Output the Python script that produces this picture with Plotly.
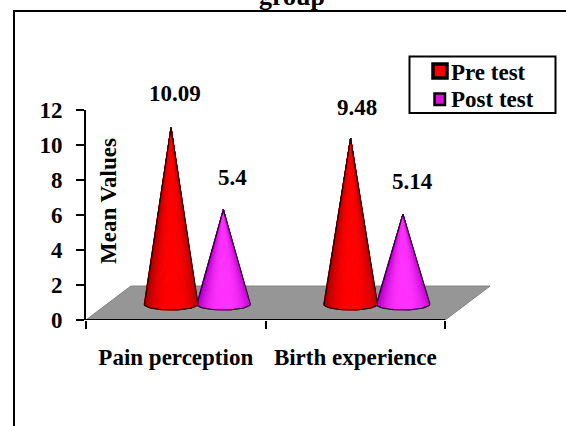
import plotly.graph_objects as go
import numpy as np

categories = ["Pain perception", "Birth experience"]
pre_test = [10.09, 9.48]
post_test = [5.4, 5.14]
y_ticks = [0, 2, 4, 6, 8, 10, 12]
legend_names = ["Pre test", "Post test"]
title_text = "group"
y_title = "Mean Values"

W, H = 566, 426
L, R, T, B = 86, 76, 110, 106
FONT = "Liberation Serif"
FS = 23

DEPTH_X, DEPTH_Y = 0.25, 1.94   # floor depth in axis units
BASE_Y = 0.91                   # cone base centre above axis
RX, RY = 0.15, 0.34             # cone base radii in axis units
OFFSETS = {"pre": 0.4735, "post": 0.765}


def px(x):
    return (x - L) / (W - L - R)


def py(y):
    return 1 - (y - T) / (H - T - B)


def mix(a, b, t):
    return "rgb(%d,%d,%d)" % tuple(round(a[i] + (b[i] - a[i]) * t) for i in range(3))


fig = go.Figure()

# floor and baseline
n = len(categories)
fig.add_trace(go.Scatter(
    x=[0, DEPTH_X, n + DEPTH_X, n, 0], y=[0, DEPTH_Y, DEPTH_Y, 0, 0],
    mode="lines", fill="toself", fillcolor="#969696",
    line=dict(color="#808080", width=1), showlegend=False, hoverinfo="skip", cliponaxis=False))
fig.add_trace(go.Scatter(
    x=[0, n], y=[0, 0], mode="lines", line=dict(color="black", width=2),
    showlegend=False, hoverinfo="skip", cliponaxis=False))


def cone(cx, value, edge, centre, outline):
    tip = BASE_Y + value
    th = np.linspace(np.pi, 0, 37)
    xs = cx + RX * np.cos(th)
    ys = BASE_Y - RY * np.sin(th)
    for i in range(len(th) - 1):
        t = (np.cos(th[i]) + np.cos(th[i + 1])) / 2
        shade = max(0.0, 1 - abs(t - 0.08) ** 2.6)
        col = mix(edge, centre, shade)
        fig.add_trace(go.Scatter(
            x=[cx, xs[i], xs[i + 1], cx], y=[tip, ys[i], ys[i + 1], tip],
            mode="lines", fill="toself", fillcolor=col, line=dict(color=col, width=1),
            showlegend=False, hoverinfo="skip", cliponaxis=False))
    fig.add_trace(go.Scatter(
        x=[cx] + list(xs) + [cx], y=[tip] + list(ys) + [tip],
        mode="lines", line=dict(color=outline, width=1.2),
        showlegend=False, hoverinfo="skip", cliponaxis=False))


RED = ((175, 0, 0), (255, 0, 0))
PUR = ((185, 0, 205), (255, 50, 255))
for i in range(n):
    cone(i + OFFSETS["post"], post_test[i], PUR[0], PUR[1], "#1a001a")
    cone(i + OFFSETS["pre"], pre_test[i], RED[0], RED[1], "#200000")

# data labels
nudges_pre = [(4, 2), (6, -2)]
nudges_post = [(9, 0), (10, 0)]
for i in range(n):
    for val, off, (dx, dy) in ((pre_test[i], OFFSETS["pre"], nudges_pre[i]),
                               (post_test[i], OFFSETS["post"], nudges_post[i])):
        fig.add_annotation(x=i + off, xref="x", yref="paper", y=(val + 2.75) / 12,
                           xanchor="center", yanchor="middle",
                           text=f"<b>{val}</b>", showarrow=False,
                           xshift=dx, yshift=dy, font=dict(family=FONT, size=FS, color="black"))

# free text
fig.add_annotation(xref="paper", yref="paper", x=px(108), y=py(201), text=f"<b>{y_title}</b>",
                   xanchor="center", yanchor="middle",
                   textangle=-90, showarrow=False, font=dict(family=FONT, size=FS, color="black"))
fig.add_annotation(xref="paper", yref="paper", x=px(292), y=py(13), xanchor="center", yanchor="bottom",
                   text=f"<b>{title_text}</b>", showarrow=False,
                   font=dict(family=FONT, size=26, color="black"))

# legend
for name, ymid in zip(legend_names, (72, 100)):
    fig.add_annotation(xref="paper", yref="paper", x=px(449), y=py(ymid),
                       xanchor="left", yanchor="middle",
                       text=f"<b>{name}</b>", showarrow=False,
                       font=dict(family=FONT, size=FS, color="black"))


def rect(x0, y0, x1, y1, fill, lw):
    return dict(type="rect", xref="paper", yref="paper", x0=px(x0), x1=px(x1), y0=py(y0), y1=py(y1),
                fillcolor=fill, line=dict(color="black", width=lw))


fig.update_layout(
    width=W, height=H, margin=dict(l=L, r=R, t=T, b=B),
    paper_bgcolor="white", plot_bgcolor="rgba(0,0,0,0)",
    font=dict(family=FONT, size=FS, color="black"),
    showlegend=False,
    xaxis=dict(range=[0, n + DEPTH_X], tickvals=[i + 0.5 for i in range(n)],
               ticktext=[f"<b>{c}</b>" for c in categories],
               ticks="", showgrid=False, zeroline=False, showline=False,
               ticklabelstandoff=21,
               minor=dict(tickvals=list(range(n + 1)), ticks="outside", ticklen=8,
                          tickwidth=2, tickcolor="black", showgrid=False)),
    yaxis=dict(range=[0, 12], tickvals=y_ticks, ticktext=[f"<b>{v}</b>" for v in y_ticks],
               ticks="outside", ticklen=8, tickwidth=2, tickcolor="black", ticklabelstandoff=9,
               showgrid=False, zeroline=False, showline=True, linecolor="black", linewidth=2),
    shapes=[
        rect(409.5, 56.5, 555.5, 113, "white", 2),
        rect(433, 64, 447, 78, "#ff0000", 3.5),
        rect(434.5, 93.5, 445, 105, "#dd11dd", 2.5),
        dict(type="line", xref="paper", yref="paper", x0=px(13), x1=px(566), y0=py(11), y1=py(11),
             line=dict(color="black", width=2)),
        dict(type="line", xref="paper", yref="paper", x0=px(14), x1=px(14), y0=py(10), y1=py(426),
             line=dict(color="black", width=2)),
    ],
)
fig.write_html("out.html", config={"displayModeBar": False},
               post_script="document.body.style.margin='0';")
